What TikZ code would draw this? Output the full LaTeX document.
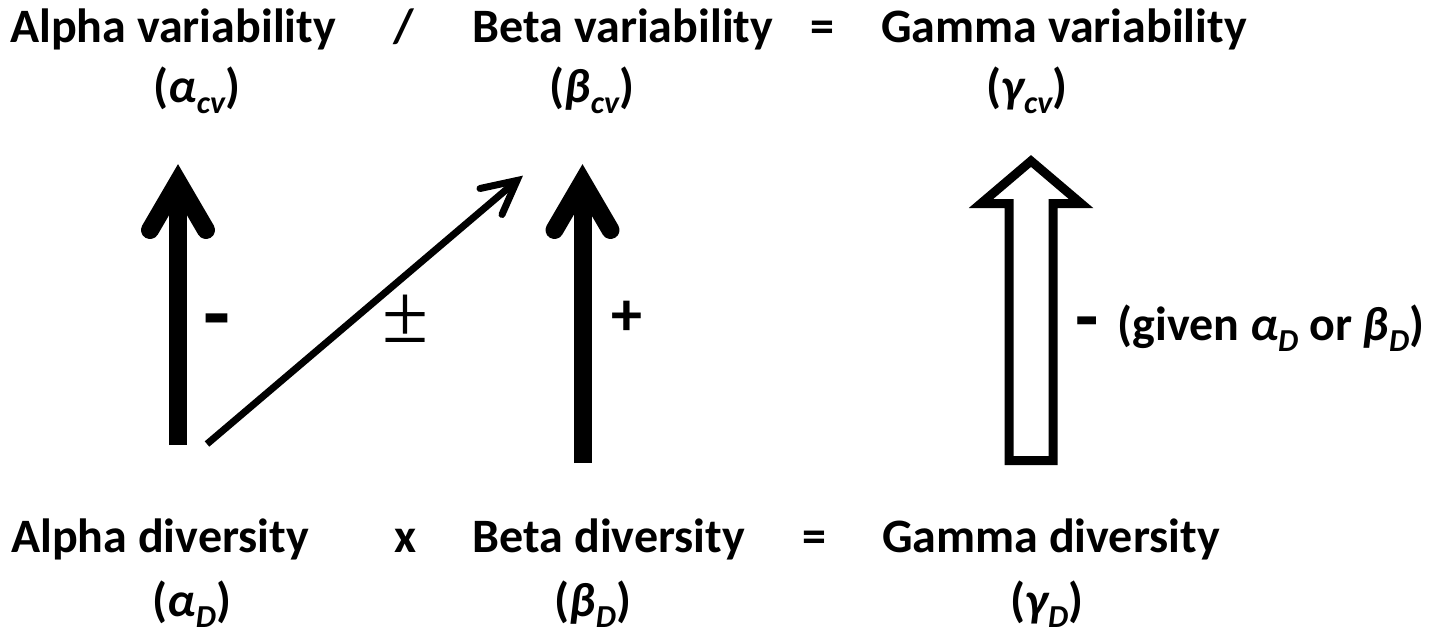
\documentclass[tikz,border=0pt]{standalone}
\usepackage{fontspec}
\setmainfont{Carlito}
\newfontfamily\pmfont{Liberation Serif}
\usetikzlibrary{arrows.meta,positioning,calc}
\newcommand{\lowsub}[1]{\raisebox{-5.5pt}{\fontsize{16pt}{16pt}\selectfont #1}}
\tikzset{
  term/.style={font=\fontsize{24pt}{28pt}\selectfont\bfseries,
    inner sep=0pt, anchor=base},
  sign/.style={font=\fontsize{#1}{#1}\selectfont\bfseries,
    inner sep=0pt, anchor=center},
  sign/.default=44pt,
  fatshaft/.style={line width=9pt},
  fathead/.style={line width=9pt, line cap=round, line join=miter},
  thinshaft/.style={line width=3.5pt},
  thinhead/.style={line width=3.5pt, line cap=round, line join=miter},
  hollowarrow/.style={draw=black, fill=white, line width=4.5pt,
    line join=miter},
}
\begin{document}
\begin{tikzpicture}[x=0.5pt, y=-0.5pt]
  \useasboundingbox (0,0) rectangle (1429,632);
  \node[term] (alphavar) at (173,42) {Alpha variability};
  \node[term] (divop) at (404,42) {/};
  \node[term] (betavar) at (623,42) {Beta variability};
  \node[term] (eqtop) at (822,42) {=};
  \node[term] (gammavar) at (1064,42) {Gamma variability};
  \node[term] (alphacv) at (197,102) {(\textit{α\lowsub{cv}})};
  \node[term] (betacv) at (592,102) {(\textit{β\lowsub{cv}})};
  \node[term] (gammacv) at (1027,102) {(\textit{γ\lowsub{cv}})};
  \node[term] (alphadiv) at (160,552) {Alpha diversity};
  \node[term] (mulop) at (406,552) {x};
  \node[term] (betadiv) at (609,552) {Beta diversity};
  \node[term] (eqbot) at (814,552) {=};
  \node[term] (gammadiv) at (1051,552) {Gamma diversity};
  \node[term] (alphaD) at (192,616) {(\textit{α\lowsub{D}})};
  \node[term] (betaD) at (593,616) {(\textit{β\lowsub{D}})};
  \node[term] (gammaD) at (1047,616) {(\textit{γ\lowsub{D}})};
  \coordinate (aFoot) at (178,445);
  \coordinate (aTip) at (178,182);
  \coordinate (bFoot) at (582.5,463);
  \coordinate (bTip) at (582.5,182);
  \coordinate (dFoot) at (207,444);
  \coordinate (dTip) at (517,180.5);
  \coordinate (gFoot) at (1031,460.5);
  \coordinate (gTip) at (1031,161);
  \coordinate (gBase) at (1031,203.5);
  \draw[fatshaft] (aFoot) -- (aTip);
  \draw[fathead] ([shift={(-28,48)}]aTip) -- (aTip) -- ([shift={(28,48)}]aTip);
  \draw[fatshaft] (bFoot) -- (bTip);
  \draw[fathead] ([shift={(-28,48)}]bTip) -- (bTip) -- ([shift={(28,48)}]bTip);
  \draw[thinshaft] (dFoot) -- (dTip);
  \draw[thinhead] ([shift={(-37,8)}]dTip) -- (dTip) -- ([shift={(-15,34)}]dTip);
  \draw[hollowarrow] ([shift={(-22,0)}]gFoot) -- ([shift={(-22,0)}]gBase)
    -- ([shift={(-50,0)}]gBase) -- (gTip) -- ([shift={(50,0)}]gBase)
    -- ([shift={(22,0)}]gBase) -- ([shift={(22,0)}]gFoot) -- cycle;
  \node[sign] (minusA) at (217,329) {-};
  \node[sign=31pt] (plusB) at (627,318) {+};
  \node[inner sep=0pt, font=\pmfont\fontsize{42pt}{42pt}\selectfont] (pmD) at (406,319) {±};
  \node[sign=38pt] (minusG) at (1087,330) {-};
  \node[term, anchor=base west] (givenG) at (1117,340)
    {(given \textit{α\lowsub{D}} or \textit{β\lowsub{D}})};
\end{tikzpicture}
\end{document}
